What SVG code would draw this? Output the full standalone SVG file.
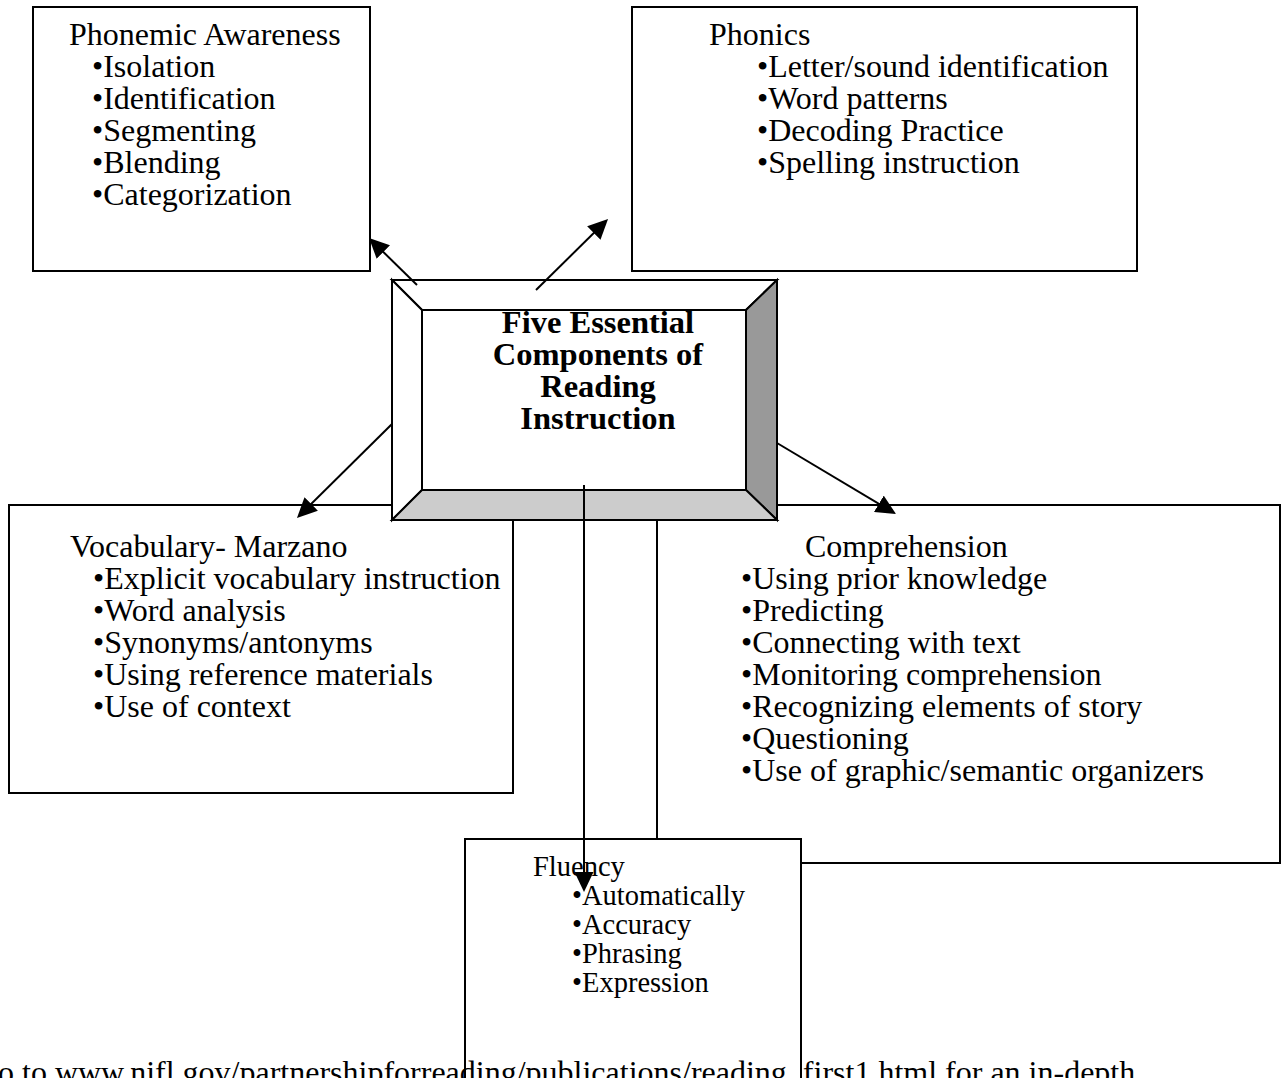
<svg xmlns="http://www.w3.org/2000/svg" width="1283" height="1078" viewBox="0 0 1283 1078">
<style>
.box{fill:#fff;stroke:#000;stroke-width:2}
.bev{stroke:#000;stroke-width:2;stroke-linejoin:miter}
.t{font-family:"Liberation Serif","Times New Roman",serif;font-size:32px;fill:#000}
.f{font-size:28.5px}
.b{font-weight:bold;text-anchor:middle;font-size:32.5px}
.conn line{stroke:#000;stroke-width:2;marker-end:url(#ah)}
</style>
<defs>
<marker id="ah" markerUnits="userSpaceOnUse" markerWidth="20" markerHeight="19" refX="16" refY="9.5" orient="auto">
<path d="M0,0 L20,9.5 L0,19 z" fill="#000"/>
</marker>
</defs>
<rect width="1283" height="1078" fill="#fff"/>

<g id="phonemic">
<rect class="box" x="33" y="7" width="337" height="264"/>
<text class="t" x="69" y="45">Phonemic Awareness</text>
<text class="t" x="92" y="77">•Isolation</text>
<text class="t" x="92" y="109">•Identification</text>
<text class="t" x="92" y="141">•Segmenting</text>
<text class="t" x="92" y="173">•Blending</text>
<text class="t" x="92" y="205">•Categorization</text>
</g>

<g id="phonics">
<rect class="box" x="632" y="7" width="505" height="264"/>
<text class="t" x="709" y="45">Phonics</text>
<text class="t" x="757" y="77">•Letter/sound identification</text>
<text class="t" x="757" y="109">•Word patterns</text>
<text class="t" x="757" y="141">•Decoding Practice</text>
<text class="t" x="757" y="173">•Spelling instruction</text>
</g>

<g id="vocabulary">
<rect class="box" x="9" y="505" width="504" height="288"/>
<text class="t" x="70" y="557">Vocabulary- Marzano</text>
<text class="t" x="93" y="589">•Explicit vocabulary instruction</text>
<text class="t" x="93" y="621">•Word analysis</text>
<text class="t" x="93" y="653">•Synonyms/antonyms</text>
<text class="t" x="93" y="685">•Using reference materials</text>
<text class="t" x="93" y="717">•Use of context</text>
</g>

<g id="comprehension">
<rect class="box" x="657" y="505" width="623" height="358"/>
<text class="t" x="805" y="557">Comprehension</text>
<text class="t" x="741" y="589">•Using prior knowledge</text>
<text class="t" x="741" y="621">•Predicting</text>
<text class="t" x="741" y="653">•Connecting with text</text>
<text class="t" x="741" y="685">•Monitoring comprehension</text>
<text class="t" x="741" y="717">•Recognizing elements of story</text>
<text class="t" x="741" y="749">•Questioning</text>
<text class="t" x="741" y="781">•Use of graphic/semantic organizers</text>
</g>

<g id="fluency">
<rect class="box" x="465" y="839" width="336" height="260"/>
<text class="t f" x="533" y="876">Fluency</text>
<text class="t f" x="572" y="905">•Automatically</text>
<text class="t f" x="572" y="934">•Accuracy</text>
<text class="t f" x="572" y="963">•Phrasing</text>
<text class="t f" x="572" y="992">•Expression</text>
</g>

<g id="center">
<polygon class="bev" fill="#fff" points="392,280 777,280 746,310 422,310"/>
<polygon class="bev" fill="#fff" points="392,280 422,310 422,490 392,520"/>
<polygon class="bev" fill="#999999" points="777,280 777,520 746,490 746,310"/>
<polygon class="bev" fill="#cccccc" points="392,520 422,490 746,490 777,520"/>
<rect class="box" x="422" y="310" width="324" height="180"/>
<text class="t b" x="598" y="333">Five Essential</text>
<text class="t b" x="598" y="365">Components of</text>
<text class="t b" x="598" y="397">Reading</text>
<text class="t b" x="598" y="429">Instruction</text>
</g>

<g id="connectors" class="conn">
<line x1="417" y1="285" x2="371.9" y2="240.8"/>
<line x1="536" y1="290" x2="605.2" y2="221.8"/>
<line x1="392" y1="424" x2="299.8" y2="515.2"/>
<line x1="777" y1="443" x2="892.6" y2="512"/>
<line x1="584" y1="485" x2="584" y2="888"/>
</g>

<text class="t" x="-2" y="1083">o to www.nifl.gov/partnershipforreading/publications/reading_first1.html for an in-depth</text>
</svg>
